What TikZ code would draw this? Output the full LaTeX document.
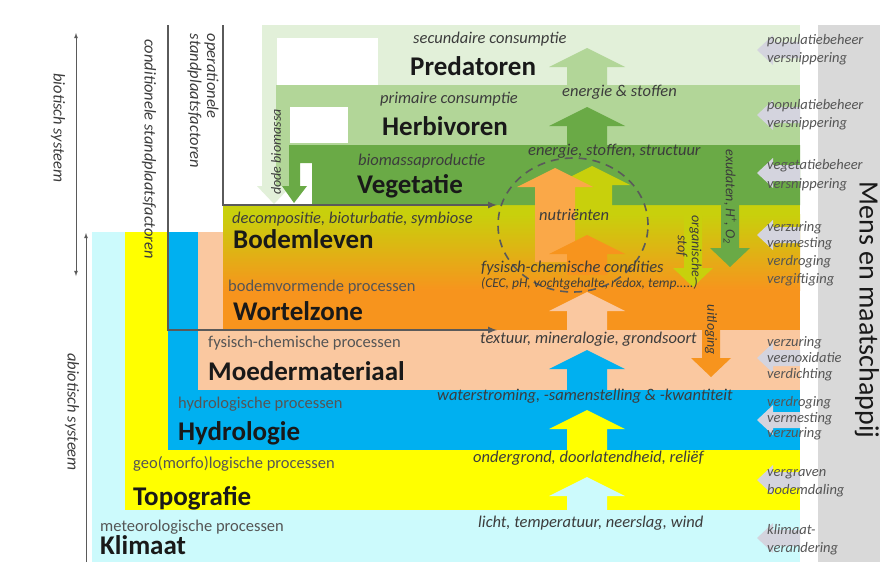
\documentclass[tikz,border=0pt]{standalone}
\usepackage{fontspec}
\setmainfont{Carlito}
\usetikzlibrary{arrows,calc}
\definecolor{KlimaatClr}{RGB}{204,250,252}
\definecolor{TopoClr}{RGB}{255,255,0}
\definecolor{HydroClr}{RGB}{0,176,240}
\definecolor{MoederClr}{RGB}{250,200,160}
\definecolor{WortelClr}{RGB}{247,148,29}
\definecolor{BodemClr}{RGB}{200,208,12}
\definecolor{VegClr}{RGB}{106,170,70}
\definecolor{HerbClr}{RGB}{178,214,152}
\definecolor{PredClr}{RGB}{226,240,217}
\definecolor{NutrClr}{RGB}{250,168,72}
\definecolor{MensClr}{RGB}{217,217,217}
\definecolor{PressClr}{RGB}{212,212,222}
\definecolor{LineClr}{RGB}{90,90,90}
\definecolor{TitleClr}{RGB}{25,25,25}
\definecolor{ProcClr}{RGB}{85,85,85}
\definecolor{FlowClr}{RGB}{60,60,60}
\newcommand{\BlockUp}[4]{\fill[#4] (#1-20,#3) -- (#1-20,#2+19) -- (#1-38,#2+19) -- (#1,#2) -- (#1+38,#2+19) -- (#1+20,#2+19) -- (#1+20,#3) -- cycle;}
\newcommand{\BlockDown}[4]{\fill[#4] (#1-9,#2) -- (#1-9,#3-19) -- (#1-20,#3-19) -- (#1,#3) -- (#1+20,#3-19) -- (#1+9,#3-19) -- (#1+9,#2) -- cycle;}
\newcommand{\Pressure}[1]{\fill[PressClr] (757,#1) -- (773,#1-15) -- (773,#1-8) -- (800,#1-8) -- (800,#1+8) -- (773,#1+8) -- (773,#1+15) -- cycle;}

\begin{document}
\begin{tikzpicture}[x=1pt,y=-1pt,
  layertxt/.style={anchor=base west,inner sep=0pt,text=TitleClr,font=\bfseries\fontsize{27}{30}\selectfont},
  proctxt/.style={anchor=base west,inner sep=0pt,text=ProcClr,font=\fontsize{16.5}{18}\selectfont},
  flowtxt/.style={anchor=base west,inner sep=0pt,text=FlowClr,font=\itshape\fontsize{16.5}{18}\selectfont},
  presstxt/.style={anchor=base west,inner sep=0pt,text=ProcClr,font=\itshape\fontsize{14.5}{16}\selectfont},
  sidetxt/.style={rotate=-90,inner sep=0pt,text=FlowClr,align=center,font=\itshape\fontsize{16.5}{17}\selectfont},
  arrtxt/.style={rotate=-90,inner sep=0pt,text=FlowClr,align=center,font=\itshape\fontsize{14}{14}\selectfont},
  link/.style={line width=2pt,draw=LineClr,-latex}]
\useasboundingbox (0,0) rectangle (880,562);
\fill[white] (0,0) rectangle (880,562);

\fill[MensClr] (818,25) rectangle (880,562);

\fill[KlimaatClr] (92,232) rectangle (800,562);
\fill[TopoClr] (125,232) rectangle (800,510);
\fill[HydroClr] (168,232) rectangle (800,450);
\fill[MoederClr] (198,232) rectangle (800,390);
\fill[WortelClr] (223,205) rectangle (800,330);
\shade[top color=BodemClr,bottom color=WortelClr] (223,214) rectangle (800,290);
\fill[BodemClr] (223,205) rectangle (800,215);

\fill[PredClr] (262,25) rectangle (800,85);
\fill[PredClr] (262,85) rectangle (276,192);
\fill[white] (277,38) rectangle (378,85);
\fill[HerbClr] (276,85) rectangle (800,145);
\fill[HerbClr] (276,145) rectangle (289,190);
\fill[white] (290,107) rectangle (348,143);
\fill[PredClr] (257,186) -- (291,186) -- (274,204) -- cycle;
\fill[VegClr] (289,145) -- (800,145) -- (800,205) -- (312,205) -- (312,163) -- (300,163) -- (300,186)
  -- (307,186) -- (294,203) -- (282,186) -- (289,186) -- cycle;

\BlockUp{587}{477}{511}{KlimaatClr}
\BlockUp{587}{410}{451}{TopoClr}
\BlockUp{587}{350}{391}{HydroClr}
\BlockUp{587}{292}{331}{MoederClr}
\BlockUp{592}{166}{206}{BodemClr}
\BlockUp{555}{168}{262}{NutrClr}
\BlockUp{587}{235}{275}{WortelClr}
\BlockUp{587}{107}{146}{VegClr}
\BlockUp{587}{48}{86}{HerbClr}

\BlockDown{730}{150}{267}{VegClr}
\BlockDown{693}{212}{287}{BodemClr}
\BlockDown{711}{300}{377}{WortelClr}

\Pressure{50}
\Pressure{115}
\Pressure{173}
\Pressure{235}
\Pressure{358}
\Pressure{420}
\Pressure{480}
\Pressure{538}

\coordinate (condTop) at (168,25);
\coordinate (condEnd) at (497,330);
\coordinate (operTop) at (223,25);
\coordinate (operEnd) at (497,205);
\draw[link] (condTop) |- (condEnd);
\draw[link] (operTop) |- (operEnd);

\coordinate (bioTop) at (76,33);
\coordinate (bioBot) at (76,276);
\coordinate (abioTop) at (86,233);
\coordinate (abioBot) at (86,562);
\draw[LineClr,line width=0.8pt,latex-latex] (bioTop) -- (bioBot);
\draw[LineClr,line width=0.8pt,-latex] (abioBot) -- (abioTop);

\draw[LineClr,line width=1.6pt,dash pattern=on 8pt off 6pt] (573,225) ellipse [x radius=75pt,y radius=67pt];

\node[flowtxt] (secCons) at (413,43) {secundaire consumptie};
\node[layertxt] (pred) at (410,75) {Predatoren};
\node[flowtxt] (primCons) at (380,103) {primaire consumptie};
\node[layertxt] (herb) at (382,135) {Herbivoren};
\node[flowtxt] (bioProd) at (358,165) {biomassaproductie};
\node[layertxt] (veg) at (357,193) {Vegetatie};
\node[flowtxt] (enSt) at (562,96) {energie \& stoffen};
\node[flowtxt] (enStStr) at (528,155) {energie, stoffen, structuur};
\node[flowtxt] (decomp) at (232,223) {decompositie, bioturbatie, symbiose};
\node[layertxt] (bodem) at (233,248) {Bodemleven};
\node[flowtxt] (nutr) at (539,220) {nutriënten};
\node[flowtxt] (fysCond) at (481,272) {fysisch-chemische condities};
\node[anchor=base west,inner sep=0pt,text=FlowClr,font=\itshape\fontsize{13.5}{15}\selectfont] (cec) at (481,287) {(CEC, pH, vochtgehalte, redox, temp.....)};
\node[proctxt] (bodVorm) at (228,291) {bodemvormende processen};
\node[layertxt] (wortel) at (233,320) {Wortelzone};
\node[flowtxt] (textuur) at (480,343) {textuur, mineralogie, grondsoort};
\node[proctxt] (fysProc) at (208,347) {fysisch-chemische processen};
\node[layertxt] (moeder) at (208,380) {Moedermateriaal};
\node[flowtxt] (water) at (437,400) {waterstroming, -samenstelling \& -kwantiteit};
\node[proctxt] (hydroProc) at (178,408) {hydrologische processen};
\node[layertxt] (hydro) at (178,440) {Hydrologie};
\node[flowtxt] (ondergr) at (473,462) {ondergrond, doorlatendheid, reliëf};
\node[proctxt] (geoProc) at (133,468) {geo(morfo)logische processen};
\node[layertxt] (topo) at (133,505) {Topografie};
\node[flowtxt] (licht) at (478,527) {licht, temperatuur, neerslag, wind};
\node[proctxt] (meteoProc) at (100,531) {meteorologische processen};
\node[layertxt] (klimaat) at (100,554) {Klimaat};

\node[arrtxt] (exud) at (730,197) {exudaten, H\textsuperscript{+}, O\textsubscript{2}};
\node[arrtxt] (orgStof) at (689,246) {organische\\stof};
\node[arrtxt] (uitlog) at (711,330) {uitloging};
\node[arrtxt,rotate=180] (dode) at (276,152) {dode biomassa};

\node[sidetxt] (bioSys) at (58,128) {biotisch systeem};
\node[sidetxt] (abioSys) at (72,412) {abiotisch systeem};
\node[sidetxt] (condSF) at (149,149) {conditionele standplaatsfactoren};
\node[sidetxt,align=left] (operSF) at (203,101) {operationele\\standplaatsfactoren};

\foreach \ty/\tx [count=\i] in {44/populatiebeheer,62/versnippering,109/populatiebeheer,127/versnippering,
  169/vegetatiebeheer,188/versnippering,231/verzuring,247/vermesting,265/verdroging,283/vergiftiging,
  346/verzuring,362/veenoxidatie,378/verdichting,406/verdroging,422/vermesting,437/verzuring,
  476/vergraven,494/bodemdaling,534/klimaat-,552/verandering}
  \node[presstxt] (press\i) at (767,\ty) {\tx};

\node[rotate=-90,inner sep=0pt,text=TitleClr,font=\fontsize{28}{30}\selectfont] (mens) at (867,310) {Mens en maatschappij};
\end{tikzpicture}
\end{document}
